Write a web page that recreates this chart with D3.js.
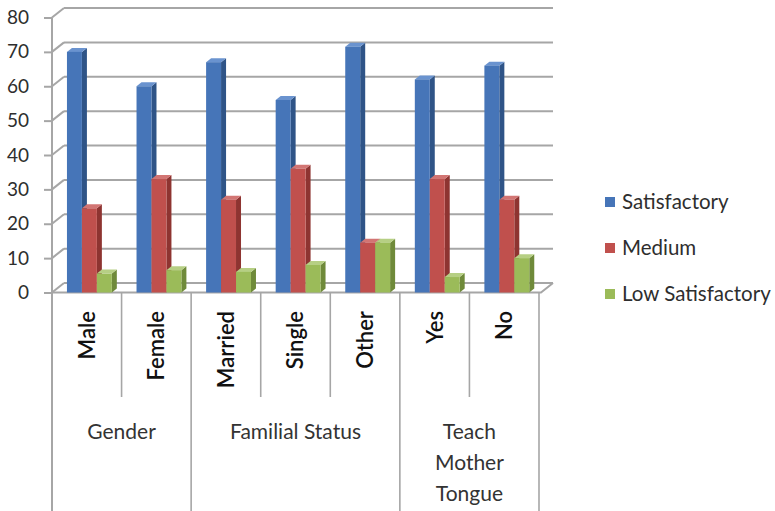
<!DOCTYPE html>
<html>
<head>
<meta charset="utf-8">
<script src="https://cdn.jsdelivr.net/npm/d3@7"></script>
<style>
  html, body { margin: 0; padding: 0; background: #fff; }
  svg { display: block; font-family: Lato, "Open Sans", sans-serif; }
</style>
</head>
<body>
<svg id="chart" width="775" height="511"></svg>
<script>
// Survey results per respondent category (percent)
const categories = ["Male", "Female", "Married", "Single", "Other", "Yes", "No"];
const seriesNames = ["Satisfactory", "Medium", "Low Satisfactory"];
const satisfactory = [70, 60, 67, 56, 71.5, 62, 66];
const medium = [24.5, 33, 27, 36, 14.5, 33, 27];
const lowSatisfactory = [5.5, 6.5, 6, 8, 14.5, 4.5, 10];
const groupNames = [["Gender"], ["Familial Status"], ["Teach", "Mother", "Tongue"]];
const groupSizes = [2, 3, 2];
const yTicks = [0, 10, 20, 30, 40, 50, 60, 70, 80];

const seriesValues = [satisfactory, medium, lowSatisfactory];
const palette = {
  front: ["#4675b8", "#c0504d", "#9bbb59"],
  side:  ["#2f5487", "#8e3431", "#6f8a3a"],
  top:   ["#6a93cf", "#d27573", "#b6cf84"]
};

const svg = d3.select("#chart");

// Front plane geometry and the depth offset of the back wall
const left = 52, right = 539;
const wallDx = 12, wallDy = -9.5;
const barDx = 5, barDy = -4;

const y = d3.scaleLinear().domain([0, 80]).range([292.5, 17.5]);
const x = d3.scaleBand().domain(categories).range([left, right]).paddingInner(0).paddingOuter(0);
const xs = d3.scaleBand().domain(seriesNames)
  .range([x.bandwidth() * 0.215, x.bandwidth() * 0.86]);

const gridColor = "#a6a6a6";

// Back wall gridlines with the diagonal side-wall segments
const grid = svg.append("g");
yTicks.forEach(t => {
  grid.append("line")
    .attr("x1", left + wallDx).attr("x2", right + wallDx + 2)
    .attr("y1", y(t) + wallDy).attr("y2", y(t) + wallDy)
    .attr("stroke", gridColor).attr("stroke-width", 2);
  grid.append("line")
    .attr("x1", left).attr("x2", left + wallDx)
    .attr("y1", y(t)).attr("y2", y(t) + wallDy)
    .attr("stroke", gridColor).attr("stroke-width", 2);
});

// Floor outline
grid.append("path")
  .attr("d", `M${left},${y(0)} L${right + 2},${y(0)} L${right + wallDx + 2},${y(0) + wallDy}`)
  .attr("fill", "none").attr("stroke", gridColor).attr("stroke-width", 2);

// Y axis
const yAxis = svg.append("g")
  .attr("transform", `translate(${left},0)`)
  .call(d3.axisLeft(y).tickValues(yTicks).tickSize(8).tickPadding(15).tickFormat(d3.format("d")));
yAxis.select(".domain").remove();
yAxis.selectAll(".tick line").attr("stroke", gridColor).attr("stroke-width", 2);
yAxis.selectAll(".tick text")
  .attr("fill", "#2e2e2e").style("font-size", "19px").style("font-family", "Lato, sans-serif");

// Axis line continues down as the outer group boundary
svg.append("line")
  .attr("x1", left).attr("x2", left).attr("y1", y(80)).attr("y2", 511)
  .attr("stroke", gridColor).attr("stroke-width", 2);

// 3D columns
const bars = svg.append("g");
categories.forEach((cat, ci) => {
  seriesNames.forEach((s, si) => {
    const v = seriesValues[si][ci];
    const x0 = x(cat) + xs(s), w = xs.bandwidth();
    const y0 = y(0), y1 = y(v);
    const g = bars.append("g");
    g.append("polygon")
      .attr("points", [[x0 + w, y1], [x0 + w + barDx, y1 + barDy], [x0 + w + barDx, y0 + barDy], [x0 + w, y0]].join(" "))
      .attr("fill", palette.side[si]);
    g.append("polygon")
      .attr("points", [[x0, y1], [x0 + barDx, y1 + barDy], [x0 + w + barDx, y1 + barDy], [x0 + w, y1]].join(" "))
      .attr("fill", palette.top[si]);
    g.append("rect")
      .attr("x", x0).attr("y", y1).attr("width", w).attr("height", y0 - y1)
      .attr("fill", palette.front[si]);
  });
});

// Category separators below the floor: short within a group, long between groups
const boundaries = [0];
groupSizes.forEach(n => boundaries.push(boundaries[boundaries.length - 1] + n));
const sep = svg.append("g");
categories.forEach((cat, ci) => {
  if (ci === 0) return;
  const isGroupEdge = boundaries.includes(ci);
  sep.append("line")
    .attr("x1", x(cat)).attr("x2", x(cat))
    .attr("y1", y(0)).attr("y2", isGroupEdge ? 511 : 397)
    .attr("stroke", gridColor).attr("stroke-width", 1.6);
});
sep.append("line")
  .attr("x1", right).attr("x2", right).attr("y1", y(0)).attr("y2", 511)
  .attr("stroke", gridColor).attr("stroke-width", 1.6);

// Rotated category labels
svg.append("g").selectAll("text").data(categories).join("text")
  .attr("transform", d => `translate(${x(d) + x.bandwidth() / 2},311) rotate(-90)`)
  .attr("dy", "0.36em")
  .attr("text-anchor", "end")
  .attr("fill", "#111")
  .style("font-size", "22px").style("font-weight", "600")
  .text(d => d);

// Group labels
groupNames.forEach((lines, gi) => {
  const a = categories[boundaries[gi]];
  const b = categories[boundaries[gi + 1] - 1];
  const cx = (x(a) + x(b) + x.bandwidth()) / 2;
  const t = svg.append("text")
    .attr("x", cx).attr("y", 439)
    .attr("text-anchor", "middle")
    .attr("fill", "#333")
    .style("font-size", "21px");
  lines.forEach((ln, li) => {
    t.append("tspan").attr("x", cx).attr("dy", li === 0 ? 0 : 31).text(ln);
  });
});

// Legend
const legend = svg.append("g").attr("transform", "translate(605,0)");
const legendY = [202, 248, 294];
seriesNames.forEach((s, si) => {
  legend.append("rect")
    .attr("x", 0).attr("y", legendY[si] - 5).attr("width", 10).attr("height", 10)
    .attr("fill", palette.front[si]);
  legend.append("text")
    .attr("x", 17).attr("y", legendY[si]).attr("dy", "0.35em")
    .attr("fill", "#2e2e2e").style("font-size", "20.5px")
    .text(s);
});
</script>
</body>
</html>
